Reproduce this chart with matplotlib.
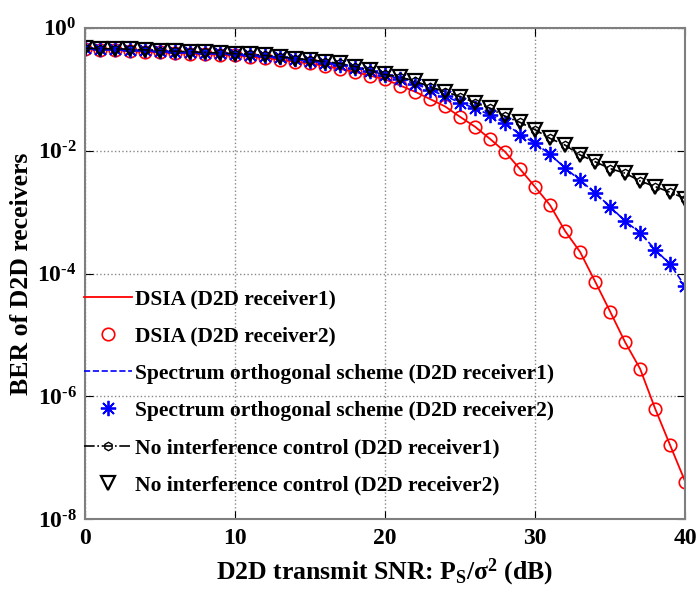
import numpy as np
import matplotlib
matplotlib.use("Agg")
import matplotlib.pyplot as plt
from matplotlib.ticker import FixedLocator, FuncFormatter

plt.rcParams['font.family'] = 'Liberation Serif'
plt.rcParams['font.weight'] = 'bold'
plt.rcParams['mathtext.fontset'] = 'custom'
plt.rcParams['mathtext.rm'] = 'Liberation Serif:bold'
plt.rcParams['mathtext.it'] = 'Liberation Serif:bold'
plt.rcParams['mathtext.bf'] = 'Liberation Serif:bold'
plt.rcParams['mathtext.default'] = 'rm'

# transmit SNR (dB)
snr = np.arange(0, 41)

# DSIA
ber_dsia = [0.447, 0.437, 0.437, 0.417, 0.407, 0.398, 0.389, 0.380, 0.372, 0.363,
            0.355, 0.339, 0.324, 0.302, 0.282, 0.263, 0.240, 0.214, 0.191, 0.166,
            0.145, 0.115, 0.0912, 0.0692, 0.0525, 0.0355, 0.0245, 0.0155, 0.00955, 5.0e-3,
            2.57e-3, 1.29e-3, 4.9e-4, 2.24e-4, 7.4e-5, 2.4e-5, 7.6e-6, 2.8e-6, 6.3e-7, 1.6e-7,
            4.1e-8]

# spectrum orthogonal scheme
ber_orth = [0.462, 0.452, 0.450, 0.440, 0.430, 0.420, 0.410, 0.400, 0.391, 0.382,
            0.372, 0.363, 0.347, 0.330, 0.308, 0.293, 0.272, 0.252, 0.224, 0.200,
            0.170, 0.148, 0.123, 0.0977, 0.0776, 0.0603, 0.049, 0.038, 0.0282, 0.0182,
            0.0132, 8.7e-3, 5.2e-3, 3.3e-3, 2.04e-3, 1.23e-3, 7.1e-4, 4.6e-4, 2.45e-4, 1.41e-4,
            6.2e-5]

# no interference control
ber_noic = [0.468, 0.457, 0.457, 0.447, 0.437, 0.427, 0.417, 0.407, 0.398, 0.389,
            0.380, 0.372, 0.355, 0.339, 0.316, 0.302, 0.282, 0.263, 0.234, 0.204,
            0.174, 0.158, 0.135, 0.110, 0.0912, 0.0759, 0.0603, 0.0490, 0.0363, 0.0288,
            0.0219, 0.0158, 0.0123, 8.5e-3, 6.6e-3, 5.1e-3, 4.3e-3, 3.2e-3, 2.6e-3, 2.1e-3,
            1.66e-3]

fig = plt.figure(figsize=(6.97, 5.92), dpi=100)
ax = fig.add_axes([0.122, 0.123, 0.861, 0.830])

ax.semilogy(snr, ber_dsia, '-', color='red', lw=1.3, label='DSIA (D2D receiver1)')
ax.semilogy(snr, ber_dsia, 'o', color='red', mfc='none', ms=9, mew=1.2,
            label='DSIA (D2D receiver2)')
ax.semilogy(snr, ber_orth, '--', color='blue', lw=1.2,
            label='Spectrum orthogonal scheme (D2D receiver1)')
ax.semilogy(snr, ber_orth, marker=(8, 2, 0), ls='none', color='blue', ms=11, mew=1.3,
            label='Spectrum orthogonal scheme (D2D receiver2)')
ax.semilogy(snr, ber_noic, '-.h', color='black', lw=1.2, ms=6, mfc='none', mew=1.0,
            label='No interference control (D2D receiver1)')
ax.semilogy(snr, ber_noic, 'v', color='black', mfc='none', ms=10, mew=1.6,
            label='No interference control (D2D receiver2)')


def exp_label(v, pos):
    e = int(round(np.log10(v)))
    if e == 0:
        return r'10$^{0}$'
    return r'10$^{\text{-%d}}$' % (-e)


ax.set_xlim(0, 40)
ax.set_ylim(1e-8, 1)
ax.set_xticks([0, 10, 20, 30, 40])
ax.yaxis.set_major_locator(FixedLocator([1e-8, 1e-6, 1e-4, 1e-2, 1]))
ax.yaxis.set_minor_locator(FixedLocator([]))
ax.yaxis.set_major_formatter(FuncFormatter(exp_label))
ax.grid(True, which='major', linestyle=':', color='#888888', lw=1.0)
ax.tick_params(direction='in', top=True, right=True, labelsize=17, length=6, pad=6)
for s in ax.spines.values():
    s.set_color('#7f7f7f')
    s.set_linewidth(1.5)

ax.set_xlabel(r'D2D transmit SNR: $\mathrm{P_S/\sigma^2}$ (dB)', fontsize=18.5,
              fontweight='bold', labelpad=6)
ax.set_ylabel('BER of D2D receivers', fontsize=18.5, fontweight='bold', labelpad=3)

ax.legend(loc='lower left', bbox_to_anchor=(-0.012, 0.035), frameon=False, fontsize=15.5,
          handlelength=2.2, handletextpad=0.15, labelspacing=0.8, borderaxespad=0,
          borderpad=0.3)

fig.savefig('out.png', dpi=100)
